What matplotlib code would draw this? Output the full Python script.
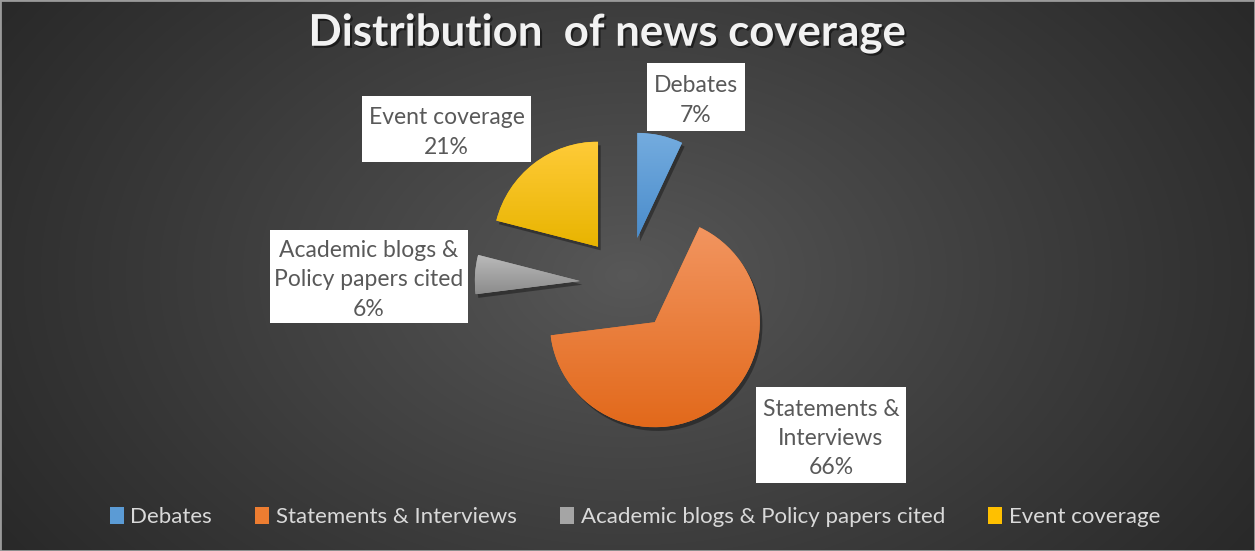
import numpy as np
import matplotlib
matplotlib.use("Agg")
import matplotlib.pyplot as plt
from matplotlib.patches import Rectangle, Wedge, Patch
from matplotlib.colors import LinearSegmentedColormap
import matplotlib.patheffects as pe

# ---------------- data ----------------
categories = ["Debates", "Statements & Interviews",
              "Academic blogs & Policy papers cited", "Event coverage"]
values = [7, 66, 6, 21]
label_names = ["Debates", "Statements &\nInterviews",
               "Academic blogs &\nPolicy papers cited", "Event coverage"]
title = "Distribution  of news coverage"

# ---------------- style ----------------
colors = ["#5B9BD5", "#ED7D31", "#A5A5A5", "#FFC000"]
top_colors = ["#74ACDF", "#F29560", "#BBBBBB", "#FFCB38"]
bottom_colors = ["#4A8CCB", "#E2691B", "#8C8C8C", "#E8B400"]
FONT = ["Lato", "DejaVu Sans"]
plt.rcParams["font.family"] = FONT

W, H, DPI = 1255, 551, 100
fig = plt.figure(figsize=(W / DPI, H / DPI), dpi=DPI)

# background radial gradient
bg = fig.add_axes([0, 0, 1, 1])
bg.set_axis_off()
yy, xx = np.mgrid[0:H, 0:W]
rr = np.sqrt(((xx - 627) / (W * 0.62)) ** 2 + ((yy - 275) / (H * 0.95)) ** 2)
rr = np.clip(rr, 0, 1) ** 0.9
c0 = np.array([0x58, 0x58, 0x58]) / 255
c1 = np.array([0x27, 0x27, 0x27]) / 255
img = c0[None, None, :] * (1 - rr[..., None]) + c1[None, None, :] * rr[..., None]
bg.imshow(img, extent=[0, W, H, 0], aspect="auto", interpolation="bilinear")
bg.set_xlim(0, W)
bg.set_ylim(H, 0)

# pie axes: 1 data unit = R pixels, pie centre at (cx, cy) pixels
R = 105.0
cx, cy = 627.0, 284.0
ax = fig.add_axes([0, 0, 1, 1])
ax.patch.set_alpha(0)
wedges, _ = ax.pie(values, startangle=90, counterclock=False,
                   explode=[0.45] * len(values), colors=colors, radius=1.0,
                   wedgeprops=dict(linewidth=0))

for w, tc, bc in zip(wedges, top_colors, bottom_colors):
    sh = Wedge((w.center[0] + 0.025, w.center[1] - 0.035), w.r, w.theta1, w.theta2,
               facecolor="black", alpha=0.35, linewidth=0, zorder=w.get_zorder() - 0.5)
    ax.add_patch(sh)
    ext = w.get_path().get_extents()
    cmap = LinearSegmentedColormap.from_list("g", [tc, bc])
    grad = np.linspace(0, 1, 256)[:, None]
    im = ax.imshow(grad, cmap=cmap, extent=[ext.x0, ext.x1, ext.y0, ext.y1],
                   origin="upper", aspect="auto", zorder=w.get_zorder() + 0.1,
                   interpolation="bilinear")
    im.set_clip_path(w)

ax.set_xlim(-cx / R, (W - cx) / R)
ax.set_ylim(-(H - cy) / R, cy / R)
ax.set_aspect("auto")
ax.set_axis_off()

# data labels (boxes in pixels: x0, y0, x1, y1)
boxes = [(647, 63, 745, 131), (756, 387, 906, 483),
         (270, 230, 468, 323), (362, 96, 531, 162)]
for name, v, (x0, y0, x1, y1) in zip(label_names, values, boxes):
    fig.patches.append(Rectangle((x0 / W, 1 - y1 / H), (x1 - x0) / W, (y1 - y0) / H,
                                 transform=fig.transFigure, facecolor="white",
                                 edgecolor="none", zorder=5))
    fig.text((x0 + x1) / 2 / W, 1 - ((y0 + y1) / 2 + 3.5) / H, f"{name}\n{v}%",
             ha="center", va="center", fontsize=16.5, color="#595959",
             linespacing=1.5, zorder=6)

# title
fig.text(607 / W, 1 - 33 / H, title, ha="center", va="center", fontsize=31.5,
         fontweight="bold", color="#F2F2F2",
         path_effects=[pe.withSimplePatchShadow(offset=(1.5, -1.5), shadow_rgbFace="black", alpha=0.5)])

# legend
handles = [Patch(facecolor=c, edgecolor="none") for c in colors]
fig.legend(handles, categories, ncol=4, loc="center",
           bbox_to_anchor=(635 / W, 1 - 517 / H), frameon=False, fontsize=16,
           labelcolor="#D9D9D9", handlelength=0.62, handleheight=0.85,
           handletextpad=0.3, columnspacing=1.95)

# border
fig.patches.append(Rectangle((0, 0), 1, 1, transform=fig.transFigure, fill=False,
                             edgecolor="#9A9A9A", linewidth=2, zorder=10))

fig.savefig("out.png", dpi=DPI)
